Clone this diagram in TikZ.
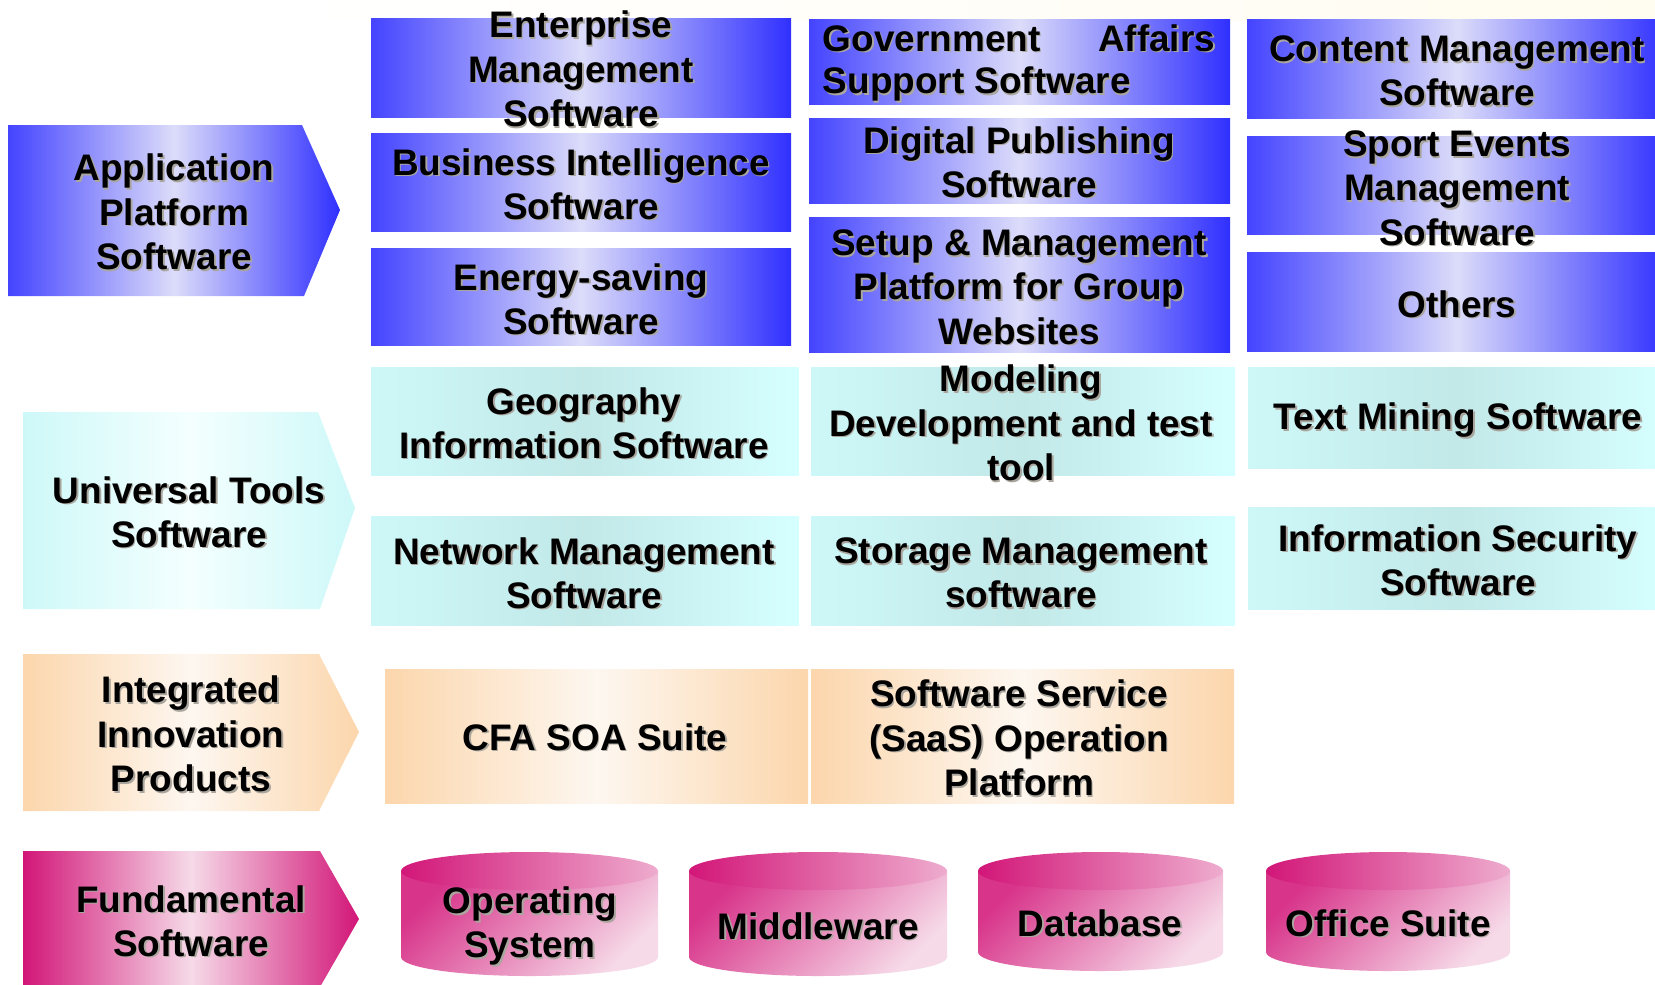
\documentclass[tikz,border=0pt]{standalone}
\usepackage{fontspec}
\setmainfont{Liberation Sans}

\definecolor{bluedeep}{RGB}{68,68,255}
\definecolor{bluedark}{RGB}{48,48,255}
\definecolor{bluelite}{RGB}{220,220,250}
\definecolor{cyanedge}{RGB}{206,248,248}
\definecolor{cyanright}{RGB}{214,255,255}
\definecolor{cyanmid}{RGB}{194,232,232}
\definecolor{cyanlite}{RGB}{244,255,255}
\definecolor{orangeedge}{RGB}{252,214,172}
\definecolor{orangelite}{RGB}{253,247,240}
\definecolor{pinkdeep}{RGB}{210,22,120}
\definecolor{pinkbody}{RGB}{216,52,138}
\definecolor{pinktop}{RGB}{238,172,206}
\definecolor{pinklite}{RGB}{246,218,232}
\definecolor{creamtint}{RGB}{255,252,240}
\definecolor{shadowgray}{RGB}{170,166,158}

% label with a grey drop shadow
\newcommand{\sdtext}[3]{%
  \node[lbl, text=shadowgray] (#2-sh) at ([shift={(1.6,1.6)}]#1) {#3};
  \node[lbl] (#2) at (#1) {#3};
}

\begin{document}
\begin{tikzpicture}[x=0.01cm, y=-0.01cm,
    lbl/.style={font=\bfseries\fontsize{10.5}{12.6}\selectfont, align=center, inner sep=0pt},
    bluebox/.style={left color=bluedeep, right color=bluedark, middle color=bluelite},
    cyanbox/.style={left color=cyanedge, right color=cyanright, middle color=cyanmid},
    cyanarrow/.style={left color=cyanedge, right color=cyanedge, middle color=cyanlite},
    orangebox/.style={left color=orangeedge, right color=orangeedge, middle color=orangelite},
    pinkarrow/.style={left color=pinkdeep, right color=pinkdeep, middle color=pinklite},
    cylbody/.style={top color=pinkbody, bottom color=pinklite, shading angle=45},
    cyltop/.style={left color=pinkdeep, right color=pinktop}]
  \useasboundingbox (0,0) rectangle (1655,984);
  \shade[left color=white, right color=creamtint] (280,0) rectangle (1655,20);

  % row heads
  \shade[bluebox] (8,125) -- (302,125) -- (340,210) -- (304,296) -- (8,296) -- cycle;
  \shade[cyanarrow] (23,412) -- (318,412) -- (355,508) -- (320,609) -- (23,609) -- cycle;
  \shade[orangebox] (23,654) -- (319,654) -- (359,732) -- (319,811) -- (23,811) -- cycle;
  \shade[pinkarrow] (23,851) -- (320,851) -- (359,919) -- (320,987) -- (23,987) -- cycle;

  % application boxes
  \foreach \xa/\xb/\ya/\yb in {371/791/18/117, 371/791/133/231, 371/791/248/345,
      809/1230/19/104, 809/1230/118/203, 809/1230/217/352,
      1247/1667/19/118, 1247/1667/136/234, 1247/1667/252/351}
    \shade[bluebox] (\xa,\ya) rectangle (\xb,\yb);

  % tools boxes
  \foreach \xa/\xb/\ya/\yb in {371/799/367/475, 371/799/516/625,
      811/1235/367/475, 811/1235/516/625,
      1248/1667/367/468, 1248/1667/507/609}
    \shade[cyanbox] (\xa,\ya) rectangle (\xb,\yb);

  % integrated products
  \shade[orangebox] (385,669) rectangle (808,803);
  \shade[orangebox] (811,669) rectangle (1234,803);

  % fundamental software cylinders
  \foreach \l/\r/\b in {401/658/957, 689/947/957, 978/1223/952, 1266/1510/952} {
    \shade[cylbody] (\l,871) -- (\l,\b) arc[start angle=180, end angle=0, x radius={(\r-\l)/2}, y radius=19] -- (\r,871) -- cycle;
    \shade[cyltop] ({(\l+\r)/2},871) ellipse[x radius={(\r-\l)/2}, y radius=19];
  }

  \sdtext{174,212}{app}{Application\\Platform\\Software}
  \sdtext{189,512}{uni}{Universal Tools\\Software}
  \sdtext{191,734}{integ}{Integrated\\Innovation\\Products}
  \sdtext{191,921}{fund}{Fundamental\\Software}

  \sdtext{581,69}{ent}{Enterprise\\Management\\Software}
  \sdtext{581,184}{bi}{Business Intelligence\\Software}
  \sdtext{581,299}{energy}{Energy-saving\\Software}
  \sdtext{1019,63}{gov}{\makebox[3.92cm][s]{Government Affairs}\\[-0.5pt]\makebox[3.92cm][l]{Support Software}}
  \sdtext{1019,162}{digital}{Digital Publishing\\Software}
  \sdtext{1019,287}{setup}{Setup \& Management\\Platform for Group\\Websites}
  \sdtext{1457,71}{cms}{Content Management\\Software}
  \sdtext{1457,188}{sport}{Sport Events\\Management\\Software}
  \sdtext{1457,304}{others}{Others}

  \sdtext{584,423}{geo}{Geography\\Information Software}
  \sdtext{584,573}{netmgmt}{Network Management\\Software}
  \sdtext{1021,423}{model}{Modeling\\Development and test\\tool}
  \sdtext{1021,573}{storage}{Storage Management\\software}
  \sdtext{1458,420}{textmine}{Text Mining Software}
  \sdtext{1458,560}{infosec}{Information Security\\Software}

  \sdtext{595,737}{cfa}{CFA SOA Suite}
  \sdtext{1019,738}{saas}{Software Service\\(SaaS) Operation\\Platform}

  \sdtext{530,926}{os}{Operating\\System}
  \sdtext{818,926}{mw}{Middleware}
  \sdtext{1100,923}{db}{Database}
  \sdtext{1388,923}{office}{Office Suite}
\end{tikzpicture}
\end{document}
